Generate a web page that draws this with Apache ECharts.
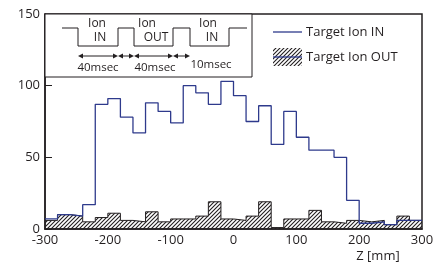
<!DOCTYPE html>
<html>
<head>
<meta charset="utf-8">
<script src="https://cdn.jsdelivr.net/npm/echarts@6/dist/echarts.min.js"></script>
<style>
  html, body { margin: 0; padding: 0; background: #fff; }
  #chart { width: 437px; height: 267px; }
</style>
</head>
<body>
<div id="chart"></div>
<script>
// left edges of the 20 mm bins, last edge closes the histogram
const binStart = [-300, -280, -260, -240, -220, -200, -180, -160, -140, -120,
                  -100, -80, -60, -40, -20, 0, 20, 40, 60, 80,
                  100, 120, 140, 160, 180, 200, 220, 240, 260, 280];
const binEnd = 300;

// counts per bin
const ionIn  = [7, 10, 9, 17, 87, 91, 78, 67, 88, 82,
                74, 100, 95, 87, 103, 93, 75, 86, 59, 82,
                64, 55, 55, 50, 20, 4, 5, 3, 6, 6];
const ionOut = [6, 10, 9, 5, 8, 11, 6, 5, 12, 5,
                7, 7, 9, 19, 7, 6, 9, 19, 1, 7,
                7, 13, 5, 4, 6, 5, 6, 3, 9, 6];

const seriesNames = ['Target Ion IN', 'Target Ion OUT'];
const ink = '#231f20';
const blue = '#2e3a8c';
const font = 'Open Sans';

function toSteps(vals) {
  const pts = binStart.map((x, i) => [x, vals[i]]);
  pts.push([binEnd, vals[vals.length - 1]]);
  return pts;
}

// diagonal hatch
const hatch = document.createElement('canvas');
hatch.width = 4; hatch.height = 4;
const hc = hatch.getContext('2d');
hc.strokeStyle = ink; hc.lineWidth = 1.1;
hc.beginPath();
hc.moveTo(0, 4); hc.lineTo(4, 0);
hc.moveTo(-1, 1); hc.lineTo(1, -1);
hc.moveTo(3, 5); hc.lineTo(5, 3);
hc.stroke();
const hatchFill = { image: hatch, repeat: 'repeat' };

// timing diagram pieces
function arrow(a, b, y) {
  const h = 5, w = 2.6;
  return [
    { type: 'line', shape: { x1: a + h, y1: y, x2: b - h, y2: y }, style: { stroke: ink, lineWidth: 1 } },
    { type: 'polygon', shape: { points: [[a, y], [a + h, y - w], [a + h, y + w]] }, style: { fill: ink } },
    { type: 'polygon', shape: { points: [[b, y], [b - h, y - w], [b - h, y + w]] }, style: { fill: ink } }
  ];
}
function label(text, x, y, size) {
  return { type: 'text', x: x, y: y,
    style: { text: text, fill: ink, font: (size || 12) + 'px "' + font + '"', align: 'center', verticalAlign: 'middle' } };
}

const wave = [[62, 28], [78, 28], [78, 46], [118, 46], [118, 28], [134, 28], [134, 46],
              [173, 46], [173, 28], [190, 28], [190, 46], [229, 46], [229, 28], [247, 28]];

const graphics = [
  { type: 'rect', shape: { x: 45, y: 14, width: 207, height: 63 }, style: { fill: '#fff', stroke: ink, lineWidth: 1 }, z: 10 },
  { type: 'polyline', shape: { points: wave }, style: { stroke: ink, lineWidth: 1, fill: null }, z: 11 },
  label('Ion', 97, 24), label('IN', 100, 38),
  label('Ion', 147, 24), label('OUT', 156, 38),
  label('Ion', 208, 24), label('IN', 212, 38),
  label('40msec', 98, 68, 11.5), label('40msec', 155, 68, 11.5), label('10msec', 211, 65, 11.5)
].concat(arrow(78, 118, 56), arrow(118, 134, 56), arrow(134, 173, 56), arrow(173, 190, 56));

graphics.forEach(g => { if (g.z === undefined) g.z = 11; });

// legend
graphics.push(
  { type: 'line', shape: { x1: 273, y1: 32, x2: 302, y2: 32 }, style: { stroke: blue, lineWidth: 1.3 }, z: 11 },
  { type: 'text', x: 306, y: 32, style: { text: seriesNames[0], fill: ink, font: '13px "' + font + '"', verticalAlign: 'middle' }, z: 11 },
  { type: 'rect', shape: { x: 273, y: 48, width: 29, height: 18 }, style: { fill: hatchFill }, z: 11 },
  { type: 'line', shape: { x1: 273, y1: 57, x2: 302, y2: 57 }, style: { stroke: blue, lineWidth: 1.3 }, z: 12 },
  { type: 'text', x: 306, y: 57, style: { text: seriesNames[1], fill: ink, font: '13px "' + font + '"', verticalAlign: 'middle' }, z: 11 },
  { type: 'text', x: 378, y: 256, style: { text: 'Z [mm]', fill: ink, font: '13px "' + font + '"', align: 'center', verticalAlign: 'middle' }, z: 11 }
);

const chart = echarts.init(document.getElementById('chart'));
chart.setOption({
  animation: false,
  grid: { left: 45, right: 15, top: 14, bottom: 38, show: true, borderColor: ink, borderWidth: 1.5, backgroundColor: 'transparent' },
  xAxis: {
    type: 'value', min: -300, max: 300, interval: 100,
    axisLine: { show: true, onZero: false, lineStyle: { color: ink, width: 1.5 } },
    axisTick: { show: false },
    splitLine: { show: false },
    axisLabel: { color: ink, fontFamily: font, fontSize: 13, margin: 5 }
  },
  yAxis: {
    type: 'value', min: 0, max: 150, interval: 50,
    axisLine: { show: true, onZero: false, lineStyle: { color: ink, width: 1.5 } },
    axisTick: { show: true, inside: true, length: 7, lineStyle: { color: ink, width: 1 } },
    splitLine: { show: false },
    axisLabel: { color: ink, fontFamily: font, fontSize: 13, margin: 5 }
  },
  series: [
    {
      name: seriesNames[1], type: 'line', step: 'end', data: toSteps(ionOut),
      showSymbol: false, lineStyle: { color: ink, width: 1 },
      areaStyle: { color: hatchFill, opacity: 1 }, z: 2
    },
    {
      name: seriesNames[0], type: 'line', step: 'end', data: toSteps(ionIn),
      showSymbol: false, lineStyle: { color: blue, width: 1.3 }, z: 3
    }
  ],
  graphic: graphics
});
</script>
</body>
</html>
